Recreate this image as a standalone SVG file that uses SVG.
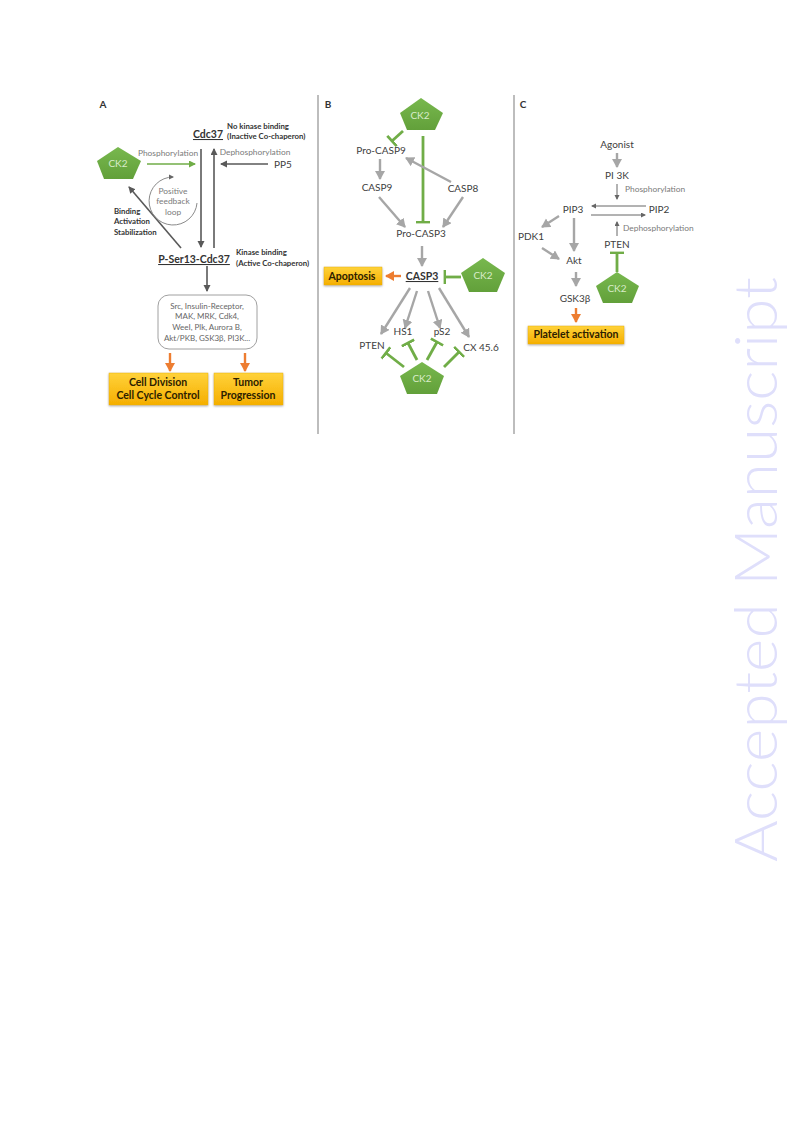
<svg xmlns="http://www.w3.org/2000/svg" width="793" height="1123" viewBox="0 0 793 1123">
<style>
text{font-family:"Lato","Liberation Sans",sans-serif;text-anchor:middle;fill:#404040;font-size:10px}
.l{text-anchor:start}
.panel{font-weight:700;font-size:10px;fill:#333}
.note{font-size:8.4px;fill:#7a7a7a}
.bn{font-weight:700;font-size:7.8px;fill:#333;text-anchor:start}
.ul{font-weight:700;font-size:10.5px;fill:#333;text-decoration:underline}
.out{font-weight:700;font-size:10.5px;fill:#2b2000}
.ck{font-size:10px;fill:#d9ecc9}
.bx{font-size:8px;fill:#666}
.pent{fill:url(#g)}
.gold{fill:url(#o);stroke:#e8b400;stroke-width:.5;filter:url(#s)}
.div{stroke:#9a9a9a;stroke-width:1.3;fill:none}
.a{stroke:#a6a6a6;stroke-width:2.4;fill:none;marker-end:url(#ga)}
.d{stroke:#595959;stroke-width:1.6;fill:none;marker-end:url(#da)}
.t{stroke:#666;stroke-width:1;fill:none;marker-end:url(#ta)}
.or{stroke:#ed7d31;stroke-width:2.4;fill:none;marker-end:url(#oa)}
.gr{stroke:#70ad47;stroke-width:1.6;fill:none;marker-end:url(#gra)}
.i{stroke:#70ad47;stroke-width:2.8;fill:none;marker-end:url(#tee)}
</style>
<defs>
<linearGradient id="g" x1="0" y1="0" x2="0" y2="1"><stop offset="0" stop-color="#78b84e"/><stop offset="1" stop-color="#62a03a"/></linearGradient>
<linearGradient id="o" x1="0" y1="0" x2="0" y2="1"><stop offset="0" stop-color="#ffd23a"/><stop offset="1" stop-color="#f5ae00"/></linearGradient>
<filter id="s" x="-10%" y="-20%" width="120%" height="150%"><feDropShadow dx="0" dy="1" stdDeviation="1" flood-color="#777" flood-opacity=".6"/></filter>
<marker id="ga" markerUnits="userSpaceOnUse" markerWidth="12" markerHeight="12" refX="8" refY="5" orient="auto"><path d="M0 0L9 5L0 10z" fill="#a6a6a6"/></marker>
<marker id="da" markerUnits="userSpaceOnUse" markerWidth="10" markerHeight="10" refX="6" refY="3.5" orient="auto"><path d="M0 0L7 3.5L0 7z" fill="#595959"/></marker>
<marker id="ta" markerUnits="userSpaceOnUse" markerWidth="8" markerHeight="8" refX="4" refY="2.5" orient="auto"><path d="M0 0L5 2.5L0 5z" fill="#666"/></marker>
<marker id="oa" markerUnits="userSpaceOnUse" markerWidth="12" markerHeight="12" refX="8" refY="5" orient="auto"><path d="M0 0L9 5L0 10z" fill="#ed7d31"/></marker>
<marker id="gra" markerUnits="userSpaceOnUse" markerWidth="10" markerHeight="10" refX="6" refY="3.5" orient="auto"><path d="M0 0L7 3.5L0 7z" fill="#70ad47"/></marker>
<marker id="tee" markerUnits="userSpaceOnUse" markerWidth="4" markerHeight="18" refX="1.4" refY="9" orient="auto"><path d="M1.4 2V16" stroke="#70ad47" stroke-width="2.8" fill="none"/></marker>
</defs>
<rect width="793" height="1123" fill="#fff"/>

<text id="watermark" transform="translate(777 862) rotate(-90)" style="text-anchor:start;font-family:'Lato','Liberation Sans',sans-serif;font-weight:300;font-size:60px;fill:#dfdffb" textLength="585" lengthAdjust="spacingAndGlyphs">Accepted Manuscript</text>

<g id="dividers">
<line class="div" x1="318" y1="95" x2="318" y2="434"/>
<line class="div" x1="514" y1="95" x2="514" y2="434"/>
</g>

<g id="connectors">
<!-- A -->
<line class="gr" x1="147" y1="164" x2="195" y2="164"/>
<line class="d" x1="201" y1="149" x2="201" y2="247"/>
<line class="d" x1="214" y1="248" x2="214" y2="149"/>
<line class="d" x1="268" y1="164" x2="221" y2="164"/>
<line class="d" x1="181" y1="248" x2="129" y2="187"/>
<line class="d" x1="207" y1="266" x2="207" y2="291"/>
<path d="M197 203A24 24 0 1 1 173 177" style="stroke:#8a8a8a;stroke-width:1;fill:none;marker-end:url(#ta)"/>
<line class="or" x1="170" y1="353" x2="170" y2="371"/>
<line class="or" x1="245" y1="353" x2="245" y2="371"/>
<!-- B -->
<line class="i" x1="403" y1="131" x2="392" y2="141"/>
<line class="i" x1="423" y1="136" x2="423" y2="222"/>
<line class="a" x1="380" y1="159" x2="380" y2="179"/>
<line class="a" x1="379" y1="197" x2="405" y2="227"/>
<line class="a" x1="451" y1="182" x2="406" y2="158"/>
<line class="a" x1="463" y1="197" x2="443" y2="227"/>
<line class="a" x1="422" y1="246" x2="422" y2="266"/>
<line class="or" x1="401" y1="276" x2="386" y2="276"/>
<line class="i" x1="461" y1="277" x2="445" y2="277"/>
<line class="a" x1="410" y1="288" x2="381" y2="334"/>
<line class="a" x1="417" y1="291" x2="405" y2="328"/>
<line class="a" x1="428" y1="291" x2="440" y2="328"/>
<line class="a" x1="439" y1="288" x2="469" y2="337"/>
<line class="i" x1="404" y1="367" x2="386" y2="353"/>
<line class="i" x1="417" y1="360" x2="408" y2="343"/>
<line class="i" x1="427" y1="360" x2="437" y2="342"/>
<line class="i" x1="444" y1="367" x2="459" y2="352"/>
<!-- C -->
<line class="a" x1="617" y1="153" x2="617" y2="167"/>
<line class="t" x1="617" y1="184" x2="617" y2="199"/>
<line class="t" x1="646" y1="206" x2="592" y2="206"/>
<line class="t" x1="591" y1="215" x2="645" y2="215"/>
<line class="t" x1="617" y1="236" x2="617" y2="222"/>
<line class="a" x1="559" y1="216" x2="542" y2="227"/>
<line class="a" x1="574" y1="218" x2="574" y2="251"/>
<line class="a" x1="542" y1="248" x2="559" y2="259"/>
<line class="a" x1="576" y1="272" x2="576" y2="286"/>
<line class="or" x1="576" y1="308" x2="576" y2="322"/>
<line class="i" x1="617" y1="272" x2="617" y2="253"/>
</g>

<g id="panel-labels">
<text class="panel" x="103" y="108">A</text>
<text class="panel" x="328" y="108">B</text>
<text class="panel" x="523" y="108">C</text>
</g>

<g id="a-ck2"><path class="pent" d="M118 147L141 161L133 179H104L97 161z"/><text class="ck" x="118" y="167">CK2</text></g>
<g id="a-phos"><text class="note" x="168" y="156">Phosphorylation</text></g>
<g id="a-cdc37"><text class="ul" x="208" y="138">Cdc37</text></g>
<g id="a-nokinase"><text class="bn" x="227" y="129">No kinase binding</text><text class="bn" x="227" y="139">(Inactive Co-chaperon)</text></g>
<g id="a-dephos"><text class="note" x="255" y="155">Dephosphorylation</text></g>
<g id="a-pp5"><text x="283" y="168">PP5</text></g>
<g id="a-feedback"><text class="note" x="173" y="194">Positive</text><text class="note" x="173" y="204">feedback</text><text class="note" x="173" y="215">loop</text></g>
<g id="a-binding"><text class="bn" x="114" y="214">Binding</text><text class="bn" x="114" y="224">Activation</text><text class="bn" x="114" y="235">Stabilization</text></g>
<g id="a-pser"><text class="ul" x="194" y="263">P-Ser13-Cdc37</text></g>
<g id="a-kinase"><text class="bn" x="236" y="255">Kinase binding</text><text class="bn" x="236" y="266">(Active Co-chaperon)</text></g>
<g id="a-substrates"><rect x="158" y="295" width="99" height="54" rx="11" fill="#fff" stroke="#a0a0a0" stroke-width="1"/>
<text class="bx" x="207" y="309">Src, Insulin-Receptor,</text><text class="bx" x="207" y="319">MAK, MRK, Cdk4,</text><text class="bx" x="207" y="330">WeeI, Plk, Aurora B,</text><text class="bx" x="207" y="341">Akt/PKB, GSK3β, PI3K...</text></g>
<g id="a-division"><rect class="gold" x="109" y="373" width="99" height="32"/><text class="out" x="158" y="386">Cell Division</text><text class="out" x="158" y="399">Cell Cycle Control</text></g>
<g id="a-tumor"><rect class="gold" x="214" y="373" width="69" height="32"/><text class="out" x="248" y="386">Tumor</text><text class="out" x="248" y="399">Progression</text></g>

<g id="b-ck2-top"><path class="pent" d="M421 98L443 113L435 130H407L400 113z"/><text class="ck" x="420" y="119">CK2</text></g>
<g id="b-procasp9"><text x="381" y="154">Pro-CASP9</text></g>
<g id="b-casp9"><text x="377" y="191">CASP9</text></g>
<g id="b-casp8"><text x="463" y="192">CASP8</text></g>
<g id="b-procasp3"><text x="421" y="237">Pro-CASP3</text></g>
<g id="b-casp3"><text class="ul" x="422" y="280">CASP3</text></g>
<g id="b-apoptosis"><rect class="gold" x="324" y="267" width="58" height="18"/><text class="out" x="352" y="280">Apoptosis</text></g>
<g id="b-ck2-right"><path class="pent" d="M483 258L505 273L497 292H469L461 273z"/><text class="ck" x="483" y="279">CK2</text></g>
<g id="b-hs1"><text x="403" y="335">HS1</text></g>
<g id="b-ps2"><text x="442" y="335">pS2</text></g>
<g id="b-pten"><text x="372" y="349">PTEN</text></g>
<g id="b-cx"><text x="481" y="351">CX 45.6</text></g>
<g id="b-ck2-bottom"><path class="pent" d="M422 362L444 376L437 394H407L400 376z"/><text class="ck" x="422" y="382">CK2</text></g>

<g id="c-agonist"><text x="617" y="148">Agonist</text></g>
<g id="c-pi3k"><text x="617" y="179">PI 3K</text></g>
<g id="c-phos"><text class="note l" x="625" y="192">Phosphorylation</text></g>
<g id="c-pip3"><text x="573" y="213">PIP3</text></g>
<g id="c-pip2"><text x="659" y="213">PIP2</text></g>
<g id="c-dephos"><text class="note l" x="623" y="231">Dephosphorylation</text></g>
<g id="c-pten"><text x="617" y="248">PTEN</text></g>
<g id="c-pdk1"><text x="531" y="240">PDK1</text></g>
<g id="c-akt"><text x="574" y="264">Akt</text></g>
<g id="c-gsk"><text x="575" y="302">GSK3β</text></g>
<g id="c-ck2"><path class="pent" d="M617 272L639 286L632 303H603L596 286z"/><text class="ck" x="617" y="292">CK2</text></g>
<g id="c-platelet"><rect class="gold" x="528" y="326" width="96" height="18"/><text class="out" x="576" y="338">Platelet activation</text></g>
</svg>
